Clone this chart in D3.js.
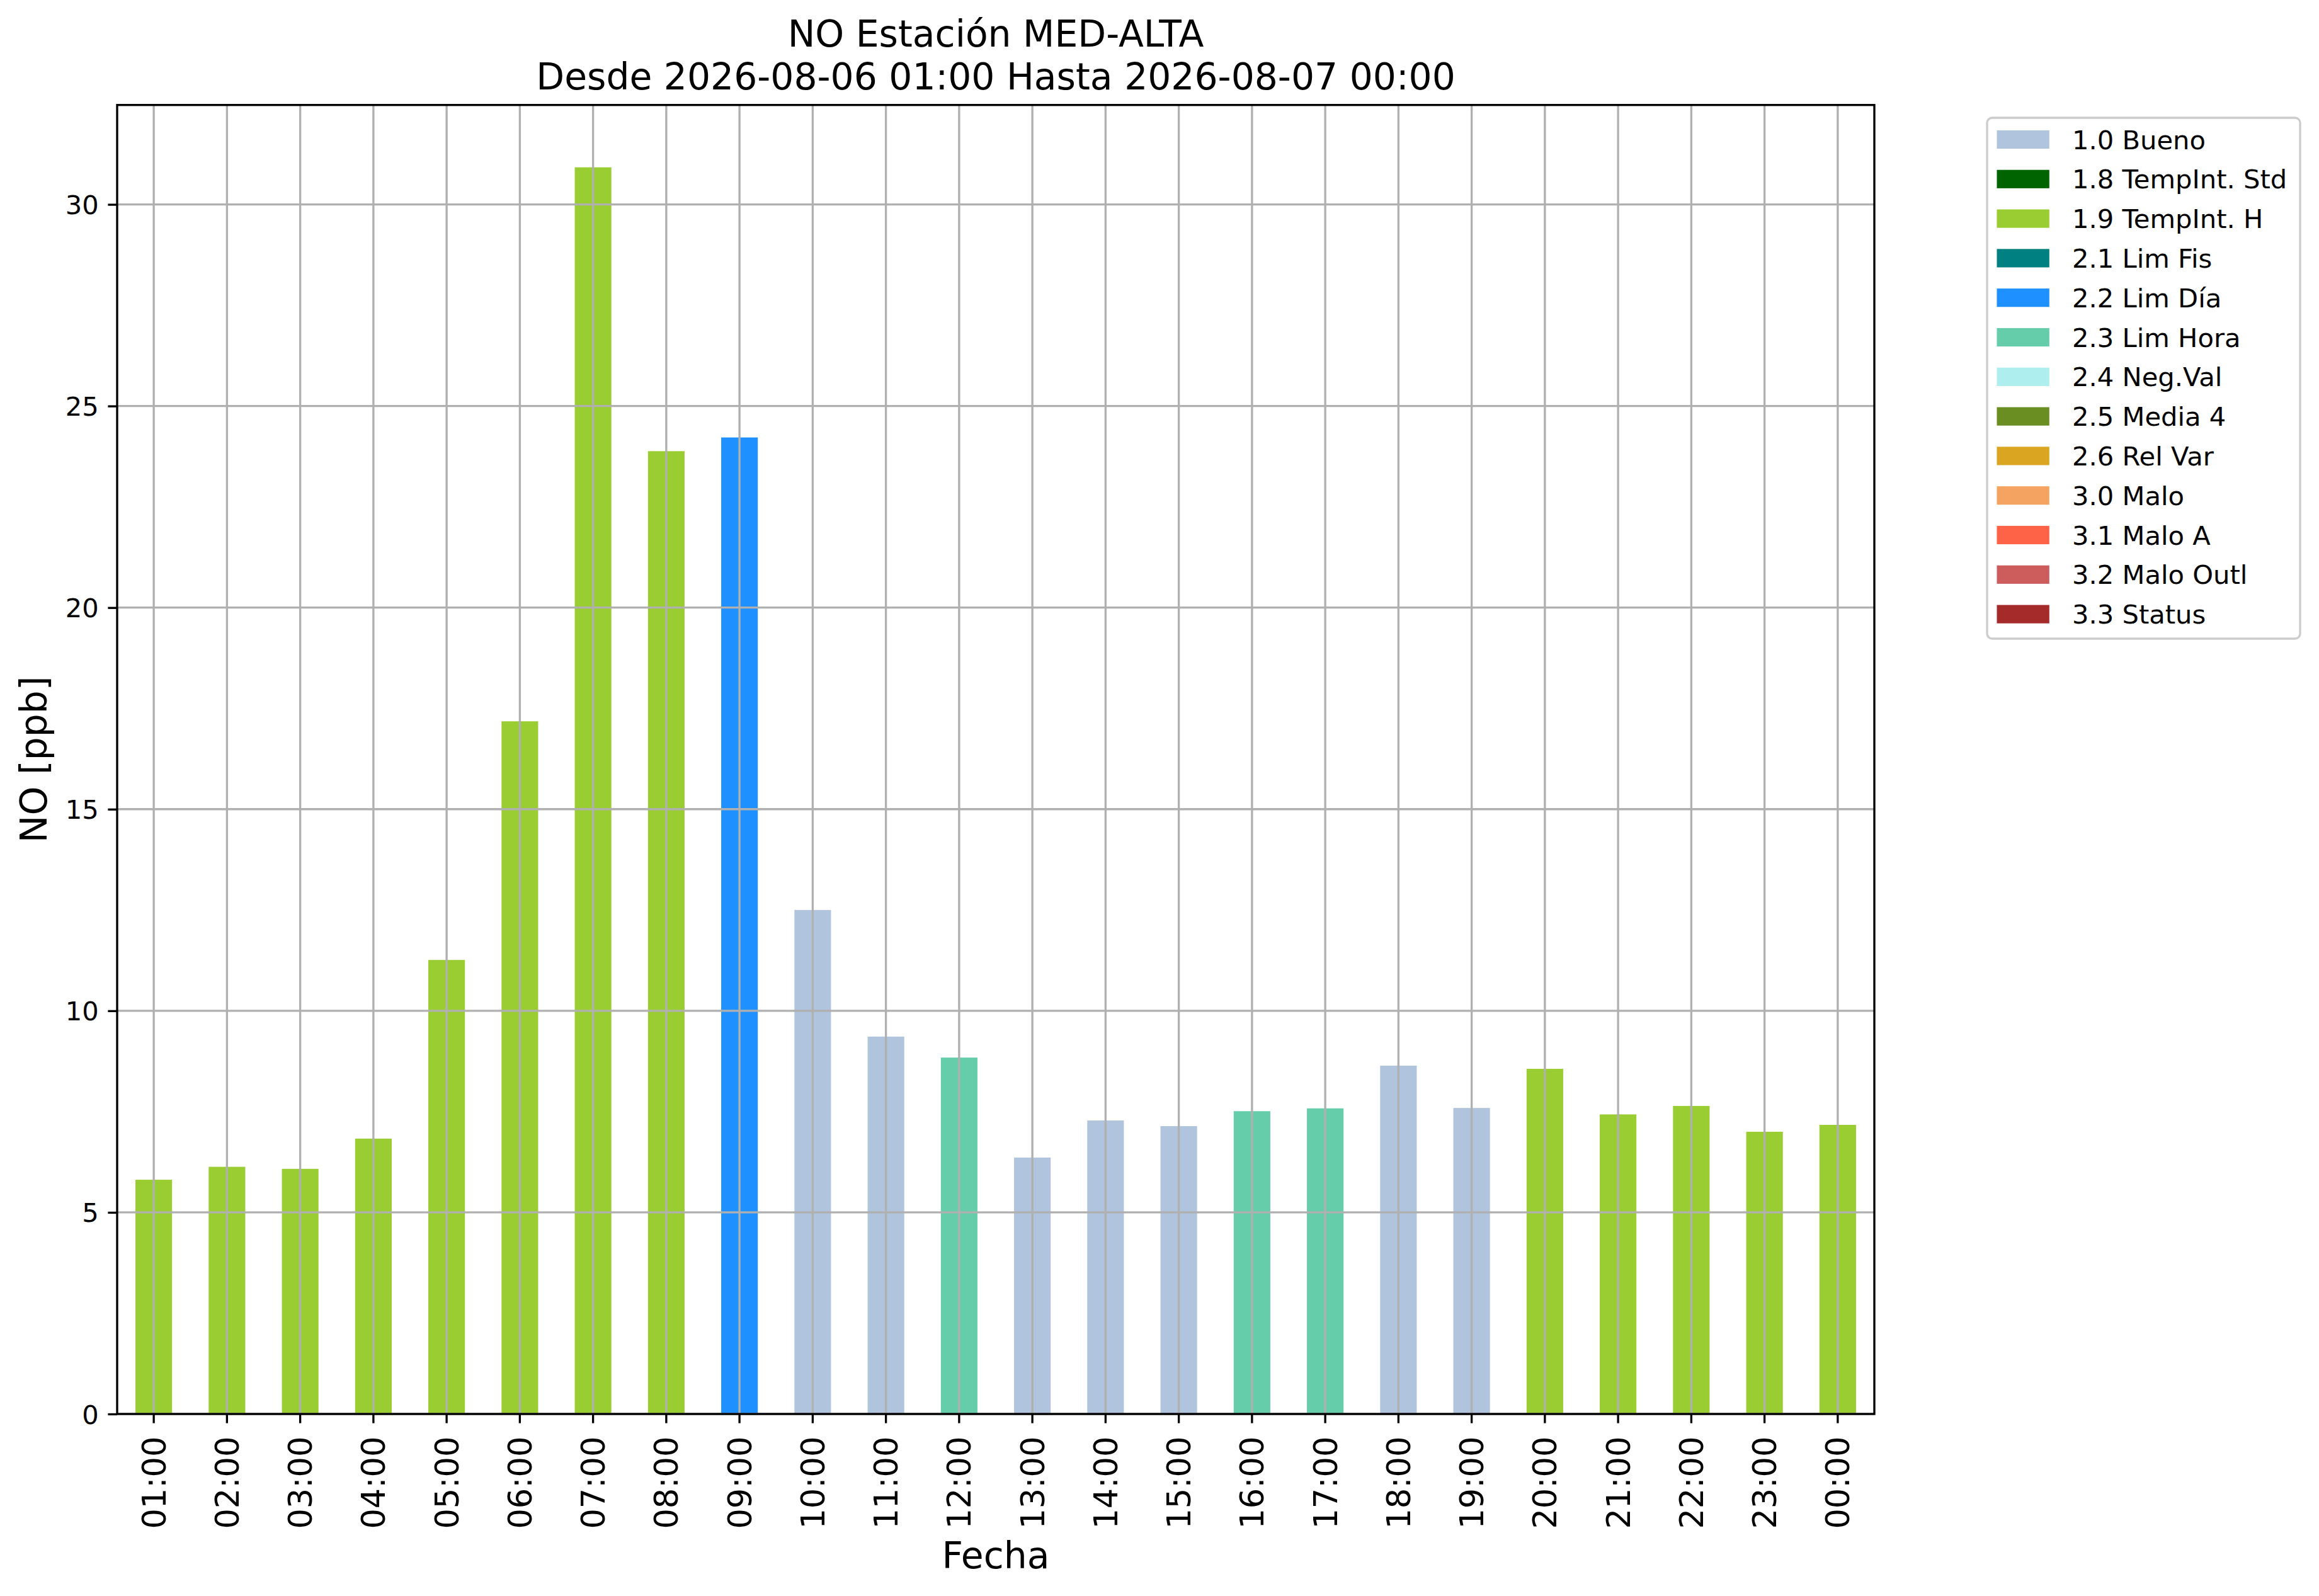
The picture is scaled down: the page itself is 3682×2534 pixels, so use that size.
<!DOCTYPE html>
<html>
<head>
<meta charset="utf-8">
<script src="https://cdn.jsdelivr.net/npm/d3@7"></script>
<style>
  html, body { margin: 0; padding: 0; background: #fff; }
  svg { display: block; }
  text { font-family: "DejaVu Sans", sans-serif; fill: #000; }
</style>
</head>
<body>
<script>
// ---- data ----
const hours = ["01:00","02:00","03:00","04:00","05:00","06:00","07:00","08:00","09:00","10:00","11:00","12:00",
               "13:00","14:00","15:00","16:00","17:00","18:00","19:00","20:00","21:00","22:00","23:00","00:00"];
const values = [5.81, 6.13, 6.08, 6.83, 11.26, 17.18, 30.92, 23.88, 24.22, 12.50, 9.36, 8.84,
                6.36, 7.28, 7.14, 7.51, 7.58, 8.64, 7.59, 8.56, 7.43, 7.64, 7.00, 7.17];
const flags = ["1.9 TempInt. H","1.9 TempInt. H","1.9 TempInt. H","1.9 TempInt. H","1.9 TempInt. H","1.9 TempInt. H",
               "1.9 TempInt. H","1.9 TempInt. H","2.2 Lim Día","1.0 Bueno","1.0 Bueno","2.3 Lim Hora",
               "1.0 Bueno","1.0 Bueno","1.0 Bueno","2.3 Lim Hora","2.3 Lim Hora","1.0 Bueno","1.0 Bueno",
               "1.9 TempInt. H","1.9 TempInt. H","1.9 TempInt. H","1.9 TempInt. H","1.9 TempInt. H"];
const legendLabels = ["1.0 Bueno","1.8 TempInt. Std","1.9 TempInt. H","2.1 Lim Fis","2.2 Lim Día","2.3 Lim Hora",
                      "2.4 Neg.Val","2.5 Media 4","2.6 Rel Var","3.0 Malo","3.1 Malo A","3.2 Malo Outl","3.3 Status"];
const legendColors = ["#B0C4DE","#006400","#9ACD32","#008080","#1E90FF","#66CDAA",
                      "#AFEEEE","#6B8E23","#DAA520","#F4A460","#FF6347","#CD5C5C","#A52A2A"];
const yTicks = [0, 5, 10, 15, 20, 25, 30];
const titleLines = ["NO Estación MED-ALTA", "Desde 2026-08-06 01:00 Hasta 2026-08-07 00:00"];
const xLabel = "Fecha";
const yLabel = "NO [ppb]";

// ---- layout ----
const W = 3682, H = 2534;
const L = 186, R = 2976, T = 166.7, B = 2245;
const LW = 3.33, TICK = 14.6;

const svg = d3.select("body").append("svg").attr("width", W).attr("height", H);
svg.append("rect").attr("width", W).attr("height", H).attr("fill", "#fff");

const x = d3.scaleBand().domain(hours).range([L, R]).padding(0);
const y = d3.scaleLinear().domain([0, d3.max(values) * 1.05]).range([B, T]);
const color = d3.scaleOrdinal().domain(legendLabels).range(legendColors);

// bars
svg.append("g").selectAll("rect").data(hours).join("rect")
  .attr("x", (d) => x(d) + x.bandwidth() * 0.25)
  .attr("width", x.bandwidth() * 0.5)
  .attr("y", (d, i) => y(values[i]))
  .attr("height", (d, i) => y(0) - y(values[i]))
  .attr("fill", (d, i) => color(flags[i]));

// grid (above bars, like matplotlib)
const grid = svg.append("g").attr("stroke", "#b0b0b0").attr("stroke-width", LW);
grid.selectAll("line.v").data(hours).join("line").attr("class", "v")
  .attr("x1", (d) => x(d) + x.bandwidth() / 2).attr("x2", (d) => x(d) + x.bandwidth() / 2)
  .attr("y1", T).attr("y2", B);
grid.selectAll("line.h").data(yTicks).join("line").attr("class", "h")
  .attr("x1", L).attr("x2", R).attr("y1", (d) => y(d)).attr("y2", (d) => y(d));

// x axis
const xAxis = d3.axisBottom(x).tickSize(TICK).tickPadding(0);
const gx = svg.append("g").attr("transform", `translate(0,${B})`).call(xAxis);
gx.select(".domain").remove();
gx.selectAll(".tick line").attr("stroke", "#000").attr("stroke-width", LW);
gx.selectAll(".tick text")
  .attr("font-size", 51).attr("font-family", "DejaVu Sans")
  .attr("transform", "rotate(-90)")
  .attr("text-anchor", "end")
  .attr("x", -(TICK + 21)).attr("y", 0).attr("dy", "0.36em");

// y axis
const yAxis = d3.axisLeft(y).tickValues(yTicks).tickFormat(d3.format("d")).tickSize(TICK).tickPadding(14.6);
const gy = svg.append("g").attr("transform", `translate(${L},0)`).call(yAxis);
gy.select(".domain").remove();
gy.selectAll(".tick line").attr("stroke", "#000").attr("stroke-width", LW);
gy.selectAll(".tick text").attr("font-size", 41.67).attr("font-family", "DejaVu Sans").attr("dy", "0.36em");

// spines
svg.append("rect").attr("x", L).attr("y", T).attr("width", R - L).attr("height", B - T)
  .attr("fill", "none").attr("stroke", "#000").attr("stroke-width", LW);

// title
svg.append("text").attr("x", (L + R) / 2).attr("y", 74).attr("text-anchor", "middle")
  .attr("font-size", 58.33).text(titleLines[0]);
svg.append("text").attr("x", (L + R) / 2).attr("y", 141.7).attr("text-anchor", "middle")
  .attr("font-size", 58.33).text(titleLines[1]);

// axis labels
svg.append("text").attr("x", (L + R) / 2).attr("y", 2490).attr("text-anchor", "middle")
  .attr("font-size", 58.33).text(xLabel);
svg.append("text").attr("transform", `translate(74,${(T + B) / 2}) rotate(-90)`)
  .attr("text-anchor", "middle").attr("font-size", 58.33).text(yLabel);

// legend
const lg = svg.append("g");
lg.append("rect").attr("x", 3155).attr("y", 187).attr("width", 3652 - 3155).attr("height", 1014 - 187)
  .attr("rx", 8).attr("ry", 8)
  .attr("fill", "#fff").attr("fill-opacity", 0.8).attr("stroke", "#cccccc").attr("stroke-width", LW);
const rowH = 62.8, row0 = 221.5;
const items = lg.selectAll("g.item").data(legendLabels).join("g").attr("class", "item")
  .attr("transform", (d, i) => `translate(0,${row0 + i * rowH})`);
items.append("rect").attr("x", 3170.5).attr("y", -14.6).attr("width", 83.3).attr("height", 29.2)
  .attr("fill", (d) => color(d));
items.append("text").attr("x", 3290).attr("y", 0).attr("dy", "0.36em")
  .attr("font-size", 41.67).text((d) => d);
</script>
</body>
</html>
